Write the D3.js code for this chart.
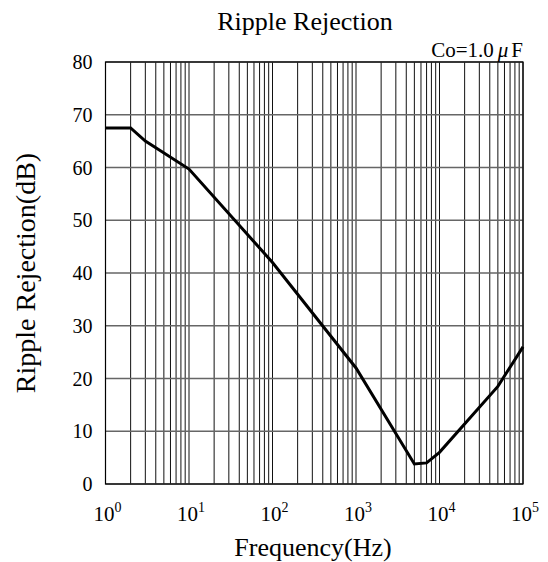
<!DOCTYPE html>
<html><head><meta charset="utf-8">
<script src="https://cdn.jsdelivr.net/npm/d3@7"></script>
<style>body{margin:0;background:#fff}svg{display:block}text{font-family:"Liberation Serif","Times New Roman",serif;fill:#000}</style>
</head><body>
<script>
const freq = [1, 2, 3, 10, 100, 1000, 5000, 7000, 10000, 50000, 100000];
const rejection = [67.5, 67.5, 65, 59.7, 42, 22, 3.8, 4, 6, 18.5, 26];
const yTicks = [0, 10, 20, 30, 40, 50, 60, 70, 80];
const xDecades = [0, 1, 2, 3, 4, 5];
const title = "Ripple Rejection";
const note = "Co=1.0";
const xLabel = "Frequency(Hz)";
const yLabel = "Ripple Rejection(dB)";

const W = 548, H = 562;
const m = {left: 105.5, right: 523, top: 62, bottom: 484};
const svg = d3.select("body").append("svg").attr("width", W).attr("height", H);
const x = d3.scaleLog().domain([1, 1e5]).range([m.left, m.right]);
const y = d3.scaleLinear().domain([0, 80]).range([m.bottom, m.top]);

const vgrid = [];
for (let k = 0; k < 5; k++) for (let j = 1; j < 10; j++) vgrid.push(j * Math.pow(10, k));
vgrid.push(1e5);
svg.append("g").selectAll("line").data(vgrid).join("line")
  .attr("x1", d => x(d)).attr("x2", d => x(d))
  .attr("y1", m.top).attr("y2", m.bottom)
  .attr("stroke", "#111").attr("stroke-width", 1);

svg.append("g").selectAll("line").data(yTicks).join("line")
  .attr("x1", m.left).attr("x2", m.right)
  .attr("y1", d => y(d)).attr("y2", d => y(d))
  .attr("stroke", "#666").attr("stroke-width", 1.5);

svg.append("rect").attr("x", m.left).attr("y", m.top)
  .attr("width", m.right - m.left).attr("height", m.bottom - m.top)
  .attr("fill", "none").attr("stroke", "#000").attr("stroke-width", 1.2);

svg.append("g").selectAll("text").data(yTicks).join("text")
  .attr("x", m.left - 13).attr("y", d => y(d)).attr("dy", "0.35em")
  .attr("text-anchor", "end").attr("font-size", 20).text(d => d);

const xl = svg.append("g").selectAll("text").data(xDecades).join("text")
  .attr("x", d => x(Math.pow(10, d)) + 2).attr("y", 521)
  .attr("text-anchor", "middle").attr("font-size", 21);
xl.append("tspan").text("10");
xl.append("tspan").attr("dy", -9).attr("font-size", 14).text(d => d);

const pts = freq.map((f, i) => [f, rejection[i]]);
svg.append("path").datum(pts)
  .attr("d", d3.line().x(d => x(d[0])).y(d => y(d[1])))
  .attr("fill", "none").attr("stroke", "#000").attr("stroke-width", 3)
  .attr("stroke-linejoin", "miter");

svg.append("text").attr("x", 305).attr("y", 30).attr("text-anchor", "middle")
  .attr("font-size", 26).text(title);
const nt = svg.append("text").attr("x", m.right).attr("y", 57).attr("text-anchor", "end").attr("font-size", 21);
nt.append("tspan").text(note);
nt.append("tspan").attr("font-style", "italic").attr("dx", 4).text("\u03bc");
nt.append("tspan").attr("dx", 3).text("F");
svg.append("text").attr("x", 313).attr("y", 556).attr("text-anchor", "middle")
  .attr("font-size", 26).text(xLabel);
svg.append("text").attr("transform", `translate(35,${(m.top + m.bottom) / 2}) rotate(-90)`)
  .attr("text-anchor", "middle").attr("font-size", 28).text(yLabel);
</script>
</body></html>
